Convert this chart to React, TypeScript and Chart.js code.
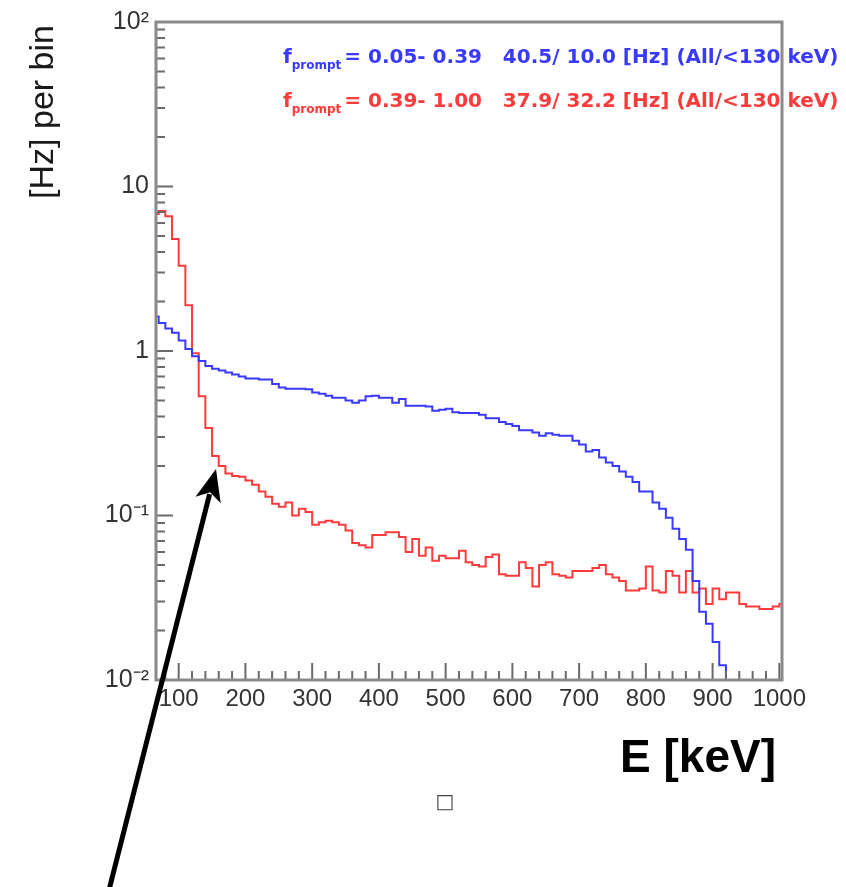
import React, { useEffect, useRef } from 'react';
import { Chart, registerables } from 'chart.js';

Chart.register(...registerables);

// Histogram binning (keV): first bin low edge and bin width
const BIN_START = 60;
const BIN_WIDTH = 10;

// f_prompt = 0.05 - 0.39  (blue), rate per bin [Hz]
const blueRate: (number | null)[] = [
  1.62, 1.48, 1.37, 1.29, 1.16, 1.03, 0.93, 0.87, 0.81, 0.78,
  0.76, 0.74, 0.72, 0.70, 0.68, 0.68, 0.67, 0.67, 0.63, 0.60,
  0.59, 0.59, 0.59, 0.585, 0.56, 0.55, 0.535, 0.52, 0.52, 0.50,
  0.485, 0.50, 0.53, 0.535, 0.52, 0.52, 0.485, 0.51, 0.465, 0.465,
  0.465, 0.46, 0.433, 0.44, 0.445, 0.425, 0.42, 0.42, 0.42, 0.41,
  0.39, 0.39, 0.37, 0.36, 0.35, 0.33, 0.33, 0.32, 0.305, 0.316,
  0.31, 0.305, 0.305, 0.285, 0.27, 0.245, 0.25, 0.225, 0.21, 0.20,
  0.185, 0.172, 0.16, 0.14, 0.14, 0.12, 0.11, 0.097, 0.083, 0.072,
  0.062, 0.040, 0.026, 0.022, 0.017, 0.0123, 0.008, null, null, null,
  null, null, null, null, null,
];

// f_prompt = 0.39 - 1.00  (red), rate per bin [Hz]
const redRate: number[] = [
  6.8, 7.1, 6.6, 4.8, 3.3, 1.9, 0.97, 0.53, 0.34, 0.23,
  0.20, 0.18, 0.174, 0.172, 0.163, 0.154, 0.14, 0.13, 0.118, 0.113,
  0.12, 0.10, 0.11, 0.105, 0.088, 0.091, 0.093, 0.091, 0.088, 0.081,
  0.068, 0.066, 0.064, 0.076, 0.076, 0.079, 0.079, 0.074, 0.060, 0.072,
  0.057, 0.064, 0.053, 0.057, 0.055, 0.055, 0.061, 0.052, 0.050, 0.049,
  0.056, 0.058, 0.044, 0.043, 0.043, 0.052, 0.048, 0.037, 0.050, 0.052,
  0.044, 0.043, 0.042, 0.046, 0.046, 0.046, 0.048, 0.050, 0.044, 0.042,
  0.040, 0.035, 0.035, 0.036, 0.049, 0.035, 0.034, 0.046, 0.043, 0.034,
  0.046, 0.034, 0.036, 0.029, 0.036, 0.031, 0.034, 0.034, 0.029, 0.028,
  0.028, 0.027, 0.027, 0.028, 0.029,
];

const X_MIN = 66;
const X_MAX = 1004;
const Y_MIN = 0.01;
const Y_MAX = 100;

const xTickValues = [100, 200, 300, 400, 500, 600, 700, 800, 900, 1000];
const yTickValues = [0.01, 0.1, 1, 10, 100];
const yTickLabels = ['10\u207B\u00B2', '10\u207B\u00B9', '1', '10', '10\u00B2'];

const legendMain = ['f', 'f'];
const legendSub = ['prompt', 'prompt'];
const legendRest = [
  '= 0.05- 0.39   40.5/ 10.0 [Hz] (All/<130 keV)',
  '= 0.39- 1.00   37.9/ 32.2 [Hz] (All/<130 keV)',
];

const xTitle = 'E [keV]';
const yTitle = '[Hz] per bin';

const BLUE = '#3a3aff';
const RED = '#ff3a3a';
const FRAME = '#8a8a8a';

function toSteps(values: (number | null)[]) {
  const pts: { x: number; y: number | null }[] = values.map((v, i) => ({
    x: BIN_START + i * BIN_WIDTH,
    y: v,
  }));
  const last = values[values.length - 1];
  pts.push({ x: BIN_START + values.length * BIN_WIDTH, y: last });
  return pts;
}

const decorPlugin = {
  id: 'decor',
  afterDraw(chart: any) {
    const { ctx, chartArea: a, scales } = chart;
    const xs = scales.x;
    const ys = scales.y;
    ctx.save();

    // legend-like text
    const rowsY = [63, 107];
    const colors = [BLUE, RED];
    for (let i = 0; i < 2; i++) {
      ctx.fillStyle = colors[i];
      ctx.textAlign = 'left';
      ctx.textBaseline = 'alphabetic';
      let x = 283;
      ctx.font = 'bold 20px "DejaVu Sans"';
      ctx.fillText(legendMain[i], x, rowsY[i]);
      x += ctx.measureText(legendMain[i]).width;
      ctx.font = 'bold 12px "DejaVu Sans"';
      ctx.fillText(legendSub[i], x, rowsY[i] + 6);
      x += ctx.measureText(legendSub[i]).width;
      ctx.font = 'bold 20px "DejaVu Sans"';
      ctx.fillText(legendRest[i], x + 3, rowsY[i]);
    }

    // ticks (inside frame)
    ctx.strokeStyle = '#6a6a6a';
    ctx.lineWidth = 2;
    ctx.beginPath();
    for (let v = 80; v <= 1000; v += 20) {
      const px = xs.getPixelForValue(v);
      const len = v % 100 === 0 ? 17 : 9;
      ctx.moveTo(px, a.bottom);
      ctx.lineTo(px, a.bottom - len);
    }
    for (let d = 0.01; d < 99; d *= 10) {
      for (let m = 1; m <= 9; m++) {
        const v = d * m;
        const py = ys.getPixelForValue(v);
        const len = m === 1 ? 17 : 9;
        ctx.moveTo(a.left, py);
        ctx.lineTo(a.left + len, py);
      }
    }
    ctx.stroke();

    // frame
    ctx.strokeStyle = FRAME;
    ctx.lineWidth = 3;
    ctx.strokeRect(a.left, a.top, a.right - a.left, a.bottom - a.top);

    // axis titles
    ctx.fillStyle = '#000';
    ctx.font = 'bold 46px "Liberation Sans"';
    ctx.textAlign = 'right';
    ctx.textBaseline = 'alphabetic';
    ctx.fillText(xTitle, 776, 772);

    ctx.save();
    ctx.translate(44, 112);
    ctx.rotate(-Math.PI / 2);
    ctx.fillStyle = '#1a1a1a';
    ctx.font = '34px "Liberation Sans"';
    ctx.textAlign = 'center';
    ctx.textBaseline = 'middle';
    ctx.fillText(yTitle, 0, 0);
    ctx.restore();

    // small box glyph
    ctx.fillStyle = '#444';
    ctx.font = '20px "DejaVu Sans"';
    ctx.textAlign = 'center';
    ctx.textBaseline = 'alphabetic';
    ctx.fillText('\u25A1', 445, 808);

    // arrow
    const tipX = 216, tipY = 469, tailX = 109, tailY = 890;
    const dx = tipX - tailX, dy = tipY - tailY;
    const L = Math.hypot(dx, dy);
    const ux = dx / L, uy = dy / L;
    const px = -uy, py = ux;
    const headLen = 32, headW = 13;
    const bx = tipX - ux * headLen, by = tipY - uy * headLen;
    ctx.strokeStyle = '#000';
    ctx.lineWidth = 5;
    ctx.beginPath();
    ctx.moveTo(tailX, tailY);
    ctx.lineTo(bx + ux * 6, by + uy * 6);
    ctx.stroke();
    ctx.fillStyle = '#000';
    ctx.beginPath();
    ctx.moveTo(tipX, tipY);
    ctx.lineTo(bx + px * headW, by + py * headW);
    ctx.lineTo(bx + ux * 8, by + uy * 8);
    ctx.lineTo(bx - px * headW, by - py * headW);
    ctx.closePath();
    ctx.fill();

    ctx.restore();
  },
};

export default function App() {
  const ref = useRef<HTMLCanvasElement | null>(null);

  useEffect(() => {
    if (!ref.current) return;
    const chart = new Chart(ref.current, {
      type: 'line',
      data: {
        datasets: [
          {
            label: 'f_prompt 0.05-0.39',
            data: toSteps(blueRate) as any,
            borderColor: BLUE,
            borderWidth: 2,
            pointRadius: 0,
            stepped: 'before',
            fill: false,
            spanGaps: false,
          },
          {
            label: 'f_prompt 0.39-1.00',
            data: toSteps(redRate) as any,
            borderColor: RED,
            borderWidth: 2,
            pointRadius: 0,
            stepped: 'before',
            fill: false,
          },
        ],
      },
      options: {
        animation: false,
        responsive: false,
        devicePixelRatio: 1,
        layout: { padding: { top: 21, right: 64, left: 0, bottom: 0 } },
        plugins: {
          legend: { display: false },
          tooltip: { enabled: false },
          title: { display: false },
        },
        scales: {
          x: {
            type: 'linear',
            min: X_MIN,
            max: X_MAX,
            grid: { display: false, drawTicks: false },
            border: { display: false },
            afterBuildTicks: (scale: any) => {
              scale.ticks = xTickValues.map((v) => ({ value: v }));
            },
            afterFit: (scale: any) => {
              scale.height = 207;
            },
            ticks: {
              autoSkip: false,
              maxRotation: 0,
              padding: 5,
              color: '#333',
              font: { family: 'Liberation Sans', size: 24 },
              callback: (v: any) => String(v),
            },
          },
          y: {
            type: 'logarithmic',
            min: Y_MIN,
            max: Y_MAX,
            grid: { display: false, drawTicks: false },
            border: { display: false },
            afterBuildTicks: (scale: any) => {
              scale.ticks = yTickValues.map((v) => ({ value: v, major: true }));
            },
            afterFit: (scale: any) => {
              scale.width = 156;
            },
            ticks: {
              autoSkip: false,
              padding: 7,
              color: '#333',
              font: { family: 'Liberation Sans', size: 25 },
              callback: (v: any) => {
                const idx = yTickValues.findIndex((t) => Math.abs(Math.log10(t) - Math.log10(v)) < 1e-6);
                return idx >= 0 ? yTickLabels[idx] : '';
              },
            },
          },
        },
      },
      plugins: [decorPlugin],
    });
    return () => chart.destroy();
  }, []);

  return (
    <div style={{ position: 'absolute', left: 0, top: 0, width: 846, height: 887, background: '#fff' }}>
      <canvas ref={ref} width={846} height={887} style={{ display: 'block' }} />
    </div>
  );
}
